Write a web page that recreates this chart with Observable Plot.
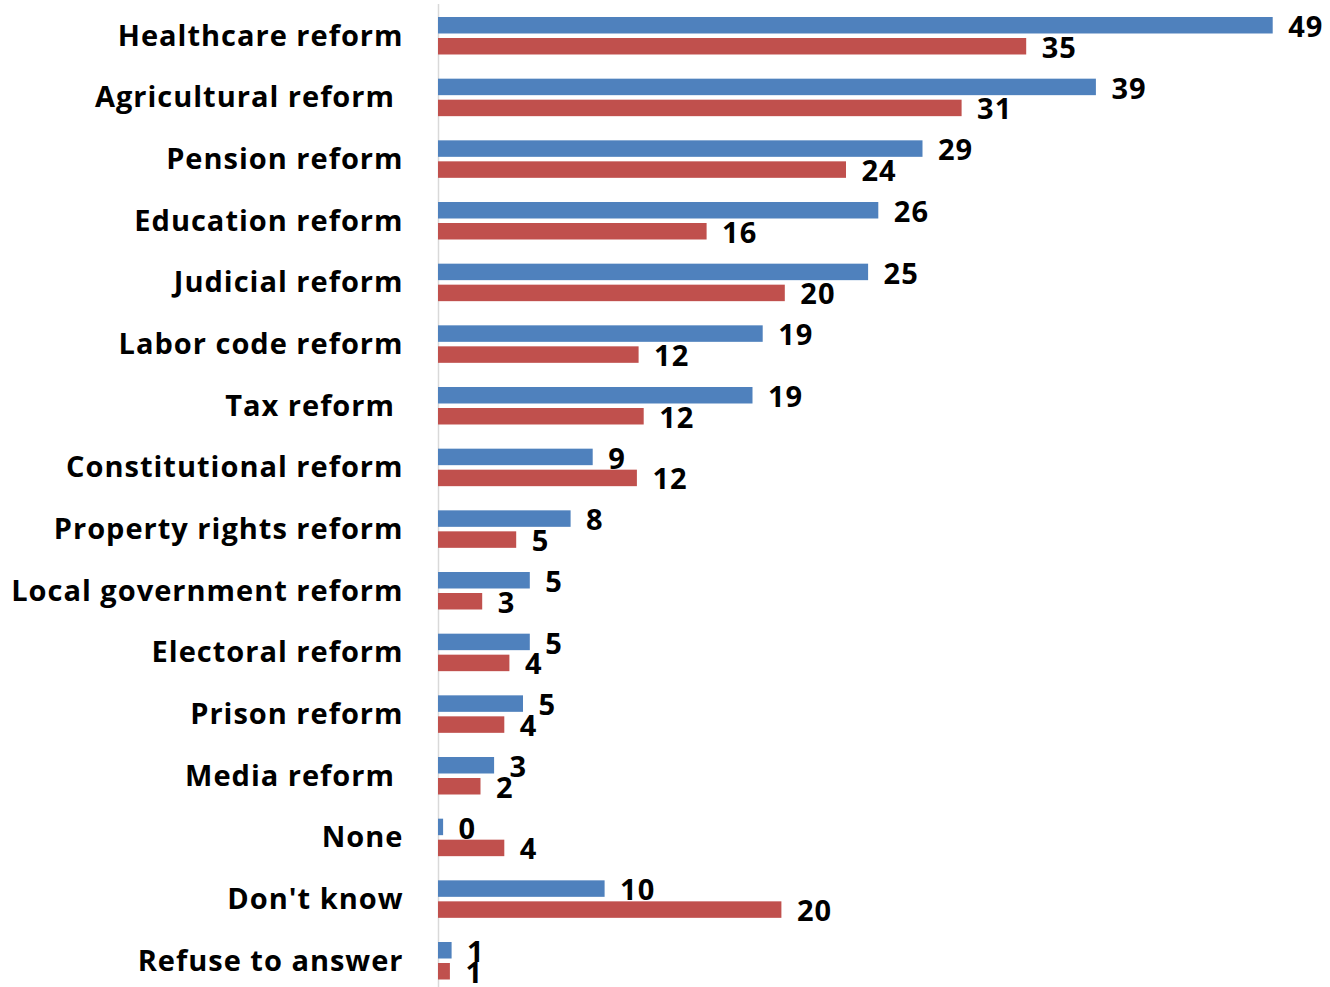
<!DOCTYPE html>
<html>
<head>
<meta charset="utf-8">
<script src="https://cdn.jsdelivr.net/npm/d3@7"></script>
<script src="https://cdn.jsdelivr.net/npm/@observablehq/plot@0.6"></script>
<style>
  html, body { margin: 0; padding: 0; background: #fff; }
  svg text { white-space: pre; }
</style>
</head>
<body>
<div id="chart"></div>
<script>
const categories = [
  "Healthcare reform", "Agricultural reform ", "Pension reform", "Education reform",
  "Judicial reform", "Labor code reform", "Tax reform ", "Constitutional reform",
  "Property rights reform", "Local government reform", "Electoral reform", "Prison reform",
  "Media reform ", "None", "Don't know", "Refuse to answer"
];
const blueValues = [49.1, 38.7, 28.5, 25.9, 25.3, 19.1, 18.5, 9.1, 7.8, 5.4, 5.4, 5.0, 3.3, 0.3, 9.8, 0.8];
const redValues  = [34.6, 30.8, 24.0, 15.8, 20.4, 11.8, 12.1, 11.7, 4.6, 2.6, 4.2, 3.9, 2.5, 3.9, 20.2, 0.7];
const blueLabels = [49, 39, 29, 26, 25, 19, 19, 9, 8, 5, 5, 5, 3, 0, 10, 1];
const redLabels  = [35, 31, 24, 16, 20, 12, 12, 12, 5, 3, 4, 4, 2, 4, 20, 1];

const data = categories.map((c, i) => ({
  category: c, blue: blueValues[i], red: redValues[i],
  blueLabel: String(blueLabels[i]), redLabel: String(redLabels[i])
}));

const chart = Plot.plot({
  width: 1330,
  height: 987,
  marginLeft: 438,
  marginRight: 42,
  marginTop: 17,
  marginBottom: 7.5,
  style: {fontFamily: "'Open Sans', sans-serif", fontSize: "29px", fontWeight: 700, color: "#000", background: "#fff", letterSpacing: "1px"},
  x: {domain: [0, 50], axis: null},
  y: {domain: categories, paddingInner: 0.392, paddingOuter: 0, round: false, label: null, tickSize: 0, tickPadding: 35},
  marks: [
    Plot.ruleX([0], {stroke: "#d9d9d9", strokeWidth: 1.5, insetTop: -13, insetBottom: -8}),
    Plot.barX(data, {y: "category", x: "blue", fill: "#4f81bd", insetBottom: 21}),
    Plot.barX(data, {y: "category", x: "red", fill: "#c0504d", insetTop: 21}),
    Plot.text(data, {y: "category", x: "blue", text: "blueLabel", dx: 15, dy: -8.5, textAnchor: "start", fontSize: 29, fontWeight: 700, fill: "#000", letterSpacing: "2px"}),
    Plot.text(data, {y: "category", x: "red", text: "redLabel", dx: 15, dy: 12, textAnchor: "start", fontSize: 29, fontWeight: 700, fill: "#000", letterSpacing: "2px"})
  ]
});
document.getElementById("chart").appendChild(chart);
</script>
</body>
</html>
